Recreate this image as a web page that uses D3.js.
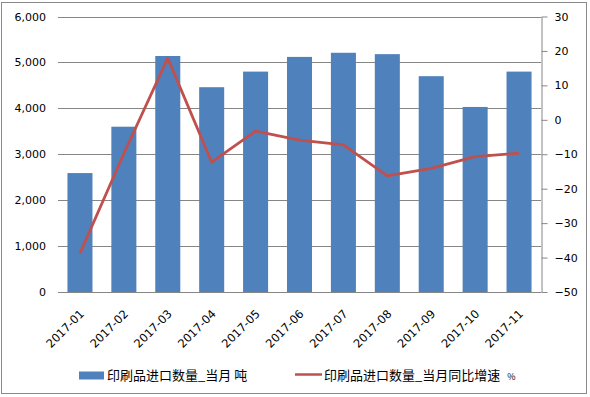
<!DOCTYPE html>
<html lang="zh">
  <head>
    <meta charset="UTF-8" />
    <title>印刷品进口数量</title>
    <script src="https://d3js.org/d3.v7.min.js" charset="utf-8"></script>
    <style>
      body { margin: 0; background: #fff; }
      text { font-family: "DejaVu Sans", Verdana, sans-serif; }
      .cjk { font-family: "Noto Sans CJK SC", sans-serif; }
    </style>
  </head>
  <body>
    <div id="chart"></div>
    <script>
      const months = ["2017-01", "2017-02", "2017-03", "2017-04", "2017-05", "2017-06",
                      "2017-07", "2017-08", "2017-09", "2017-10", "2017-11"];
      const volume = [2590, 3600, 5140, 4460, 4800, 5120, 5210, 5180, 4700, 4030, 4800];
      const growth = [-38.8, -9.8, 17.9, -12.3, -3.3, -5.9, -7.3, -16.3, -14.1, -10.7, -9.7];
      const leftTicks = [0, 1000, 2000, 3000, 4000, 5000, 6000];
      const rightTicks = [-50, -40, -30, -20, -10, 0, 10, 20, 30];
      const barName = "印刷品进口数量_当月 吨";
      const lineName = "印刷品进口数量_当月同比增速";

      const width = 590;
      const height = 397;
      const plot = { left: 58, right: 541, top: 16.5, bottom: 292 };

      const svg = d3.select("#chart").append("svg")
        .attr("width", width)
        .attr("height", height);

      // outer frame
      svg.append("rect")
        .attr("x", 1.5).attr("y", 2.5)
        .attr("width", 585).attr("height", 391)
        .attr("fill", "#fff")
        .attr("stroke", "#8a8a8a");

      const x = d3.scaleBand()
        .domain(months)
        .range([plot.left, plot.right])
        .paddingInner(0.43)
        .paddingOuter(0.215);

      const yLeft = d3.scaleLinear().domain([0, 6000]).range([plot.bottom, plot.top]);
      const yRight = d3.scaleLinear().domain([-50, 30]).range([plot.bottom, plot.top]);

      // gridlines
      svg.append("g")
        .selectAll("line")
        .data(leftTicks.filter(d => d > 0))
        .join("line")
        .attr("x1", plot.left).attr("x2", plot.right)
        .attr("y1", d => Math.round(yLeft(d)) + 0.5)
        .attr("y2", d => Math.round(yLeft(d)) + 0.5)
        .attr("stroke", "#868686");

      // left axis labels
      const leftAxis = svg.append("g")
        .attr("transform", `translate(${plot.left},0)`)
        .call(d3.axisLeft(yLeft).tickValues(leftTicks).tickFormat(d3.format(",")).tickSize(0).tickPadding(12));
      leftAxis.select(".domain").remove();
      leftAxis.selectAll("text").attr("font-size", 11).attr("fill", "#000")
        .attr("font-family", "DejaVu Sans, sans-serif");

      // bars
      svg.append("g")
        .selectAll("rect")
        .data(volume)
        .join("rect")
        .attr("x", (d, i) => x(months[i]))
        .attr("width", x.bandwidth())
        .attr("y", d => yLeft(d))
        .attr("height", d => yLeft(0) - yLeft(d))
        .attr("fill", "#4f81bd");

      // bottom axis
      const bottomAxis = svg.append("g")
        .attr("transform", `translate(0,${Math.round(plot.bottom) + 0.5})`)
        .call(d3.axisBottom(x).tickSize(0).tickPadding(0));
      bottomAxis.select(".domain").attr("stroke", "#868686").attr("d", `M${plot.left},0H${plot.right}`);
      bottomAxis.selectAll("text")
        .attr("font-size", 11.5)
        .attr("fill", "#000")
        .attr("font-family", "DejaVu Sans, sans-serif")
        .attr("text-anchor", "end")
        .attr("dy", 0)
        .attr("transform", "translate(5,22) rotate(-45)");

      // right axis
      const rightAxis = svg.append("g")
        .attr("transform", `translate(${plot.right + 0.5},0)`)
        .call(d3.axisRight(yRight).tickValues(rightTicks).tickSize(6).tickPadding(7).tickSizeOuter(0));
      rightAxis.select(".domain").attr("stroke", "#868686");
      rightAxis.selectAll("line").attr("stroke", "#868686");
      rightAxis.selectAll("text").attr("font-size", 11).attr("fill", "#000")
        .attr("font-family", "DejaVu Sans, sans-serif");

      // growth line
      const line = d3.line()
        .x((d, i) => x(months[i]) + x.bandwidth() / 2)
        .y(d => yRight(d));
      svg.append("path")
        .datum(growth)
        .attr("d", line)
        .attr("fill", "none")
        .attr("stroke", "#c0504d")
        .attr("stroke-width", 2.8)
        .attr("stroke-linejoin", "round");

      // legend
      const legend = svg.append("g");
      legend.append("rect")
        .attr("x", 79).attr("y", 371.5)
        .attr("width", 25).attr("height", 8)
        .attr("fill", "#4f81bd");
      legend.append("text")
        .attr("class", "cjk")
        .attr("x", 107).attr("y", 380)
        .attr("font-size", 13)
        .text(barName);
      legend.append("line")
        .attr("x1", 295).attr("x2", 322)
        .attr("y1", 374.5).attr("y2", 374.5)
        .attr("stroke", "#c0504d")
        .attr("stroke-width", 2.5);
      const lt = legend.append("text")
        .attr("class", "cjk")
        .attr("x", 324).attr("y", 380)
        .attr("font-size", 13)
        .text(lineName);
      lt.append("tspan").attr("font-size", 9).attr("dx", 7).text("%");
    </script>
  </body>
</html>
